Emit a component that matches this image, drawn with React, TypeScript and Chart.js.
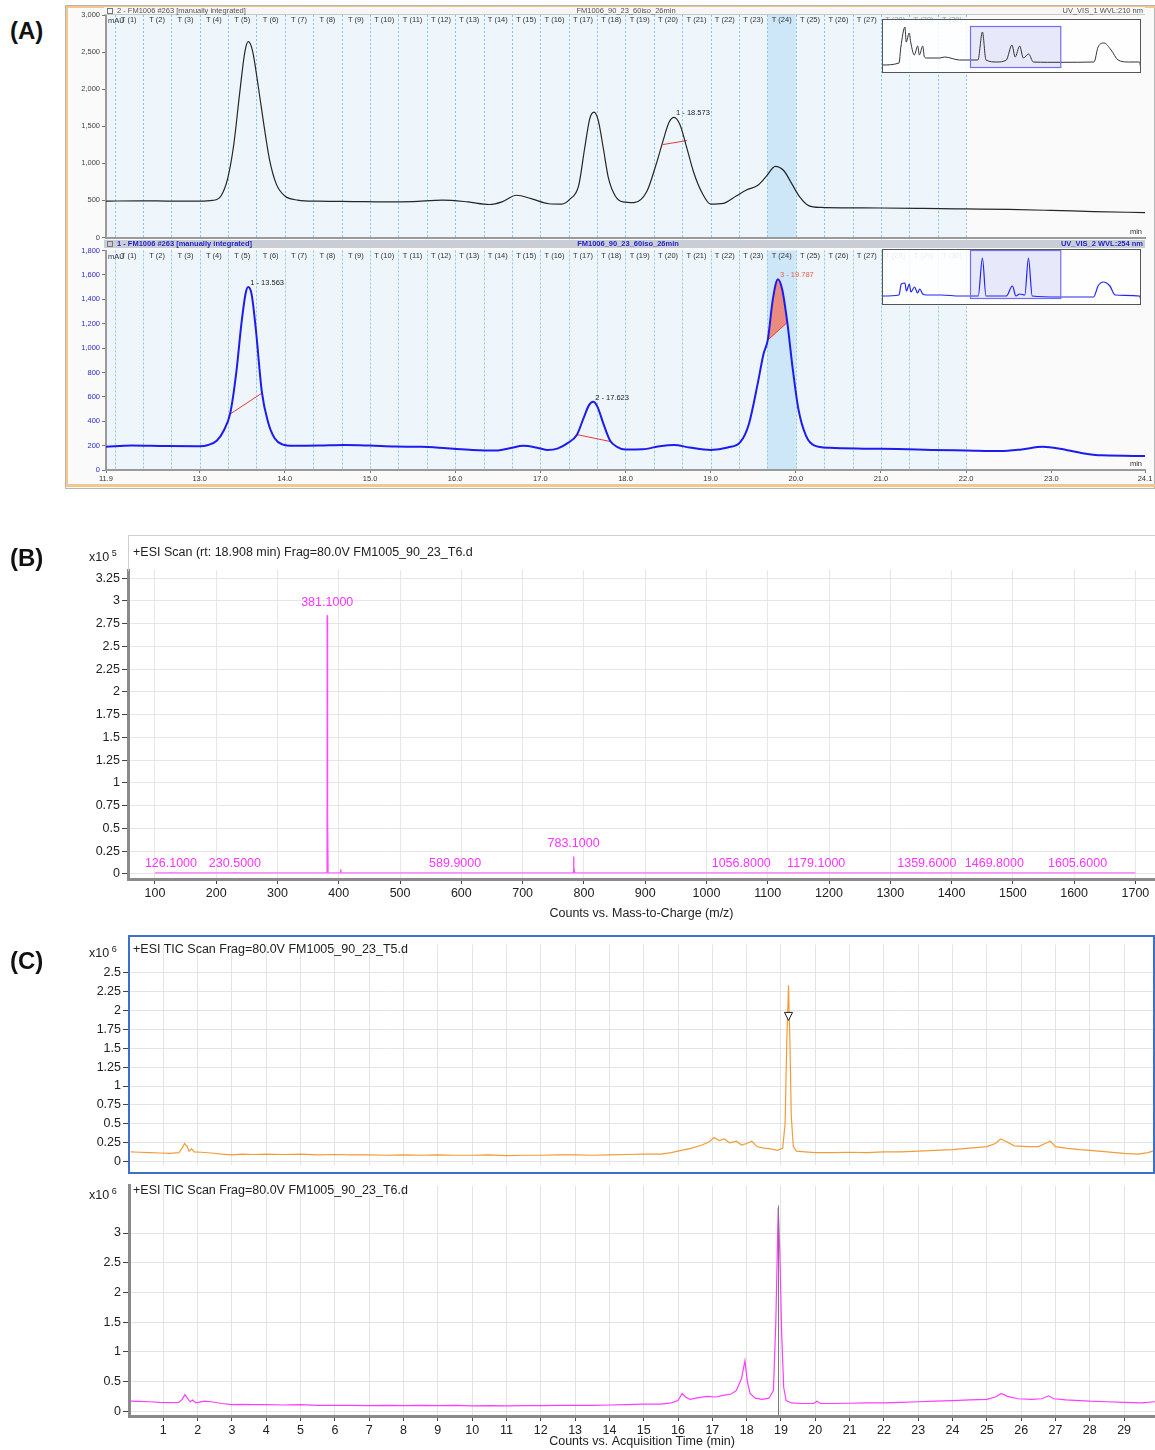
import React, { useEffect, useRef } from "react";
import { Chart, registerables } from "chart.js";

Chart.register(...registerables);
const FONT = "'Liberation Sans', Arial, Helvetica, sans-serif";
Chart.defaults.font.family = FONT;

// ---------------- Panel A : HPLC-UV chromatograms ----------------
const uv210Time = [11.9, 12.3, 12.7, 13.0, 13.15, 13.25, 13.33, 13.4, 13.47, 13.53, 13.57, 13.62, 13.68, 13.75, 13.82, 13.9, 14.0, 14.15, 14.4, 14.8, 15.2, 15.5, 15.85, 16.15, 16.4, 16.55, 16.72, 16.9, 17.1, 17.25, 17.35, 17.45, 17.52, 17.58, 17.63, 17.68, 17.74, 17.8, 17.88, 17.97, 18.1, 18.25, 18.35, 18.44, 18.51, 18.57, 18.64, 18.71, 18.8, 18.9, 19.0, 19.15, 19.3, 19.42, 19.55, 19.65, 19.76, 19.86, 19.95, 20.05, 20.15, 20.3, 20.6, 21.0, 21.5, 22.0, 22.5, 23.0, 23.5, 24.1];
const uv210Abs = [490, 495, 490, 490, 500, 560, 800, 1250, 1950, 2500, 2640, 2520, 2100, 1550, 1050, 720, 560, 505, 490, 485, 480, 485, 505, 480, 445, 480, 570, 520, 455, 450, 520, 700, 1200, 1600, 1690, 1580, 1200, 800, 560, 480, 470, 620, 950, 1300, 1550, 1620, 1520, 1250, 880, 600, 450, 460, 560, 640, 700, 820, 960, 900, 730, 540, 430, 405, 400, 398, 392, 385, 378, 365, 350, 335];

const uv254Time = [11.9, 12.2, 12.6, 13.0, 13.1, 13.2, 13.28, 13.36, 13.43, 13.49, 13.54, 13.57, 13.61, 13.66, 13.73, 13.8, 13.88, 13.97, 14.1, 14.4, 14.7, 15.0, 15.3, 15.6, 15.9, 16.2, 16.5, 16.65, 16.8, 16.95, 17.08, 17.2, 17.32, 17.43, 17.51, 17.57, 17.62, 17.67, 17.74, 17.82, 17.9, 18.0, 18.2, 18.4, 18.57, 18.75, 19.0, 19.2, 19.35, 19.45, 19.55, 19.62, 19.67, 19.73, 19.79, 19.84, 19.9, 19.96, 20.03, 20.12, 20.22, 20.4, 20.8, 21.2, 21.6, 22.0, 22.4, 22.65, 22.9, 23.1, 23.35, 23.6, 24.1];
const uv254Abs = [190, 200, 196, 195, 205, 240, 320, 470, 800, 1200, 1450, 1500, 1440, 1150, 640, 400, 260, 210, 198, 200, 205, 200, 192, 190, 178, 165, 160, 180, 198, 185, 165, 175, 220, 290, 430, 530, 560, 520, 380, 240, 190, 168, 170, 195, 205, 185, 165, 185, 230, 380, 700, 950, 1065, 1400, 1565, 1480, 1210, 850, 500, 280, 200, 182, 175, 172, 165, 160, 155, 168, 190, 175, 140, 120, 115];

const aTopYTicks = [0, 500, 1000, 1500, 2000, 2500, 3000];
const aBotYTicks = [0, 200, 400, 600, 800, 1000, 1200, 1400, 1600, 1800];
const aXTicks = [11.9, 13, 14, 15, 16, 17, 18, 19, 20, 21, 22, 23, 24.1];
const tWindowBounds = [12.0, 12.333, 12.667, 13.0, 13.333, 13.667, 14.0, 14.333, 14.667, 15.0, 15.333, 15.667, 16.0, 16.333, 16.667, 17.0, 17.333, 17.667, 18.0, 18.333, 18.667, 19.0, 19.333, 19.667, 20.0, 20.333, 20.667, 21.0, 21.333, 21.667, 22.0];
const tHighlighted = 24;

const int210Time = [18.44, 18.72];
const int210Abs = [1253, 1307];
const int254P1Time = [13.36, 13.73];
const int254P1Abs = [460, 630];
const int254P2Time = [17.43, 17.82];
const int254P2Abs = [290, 234];
const int254P3Time = [19.67, 19.9];
const int254P3Abs = [1065, 1210];

const lbl210Time = [18.57];
const lbl210Abs = [1620];
const lbl210Text = ["1 - 18.573"];
const lbl254Time = [13.57, 17.62, 19.79];
const lbl254Abs = [1500, 560, 1565];
const lbl254Text = ["1 - 13.563", "2 - 17.623", "3 - 19.787"];
const lbl254Color = ["#222", "#222", "#f05a4a"];

// overview insets (full run, arbitrary units)
const inset210Time = [0, 2.3, 2.55, 3.1, 3.27, 3.68, 3.9, 4.37, 4.82, 5.05, 5.5, 5.73, 6.0, 7.8, 8.46, 10.5, 12.96, 13.57, 14.05, 15.5, 16.8, 17.56, 18.0, 18.6, 19.1, 19.8, 20.46, 22.4, 24.15, 28.65, 29.2, 30.0, 30.96, 31.9, 33.3, 34.8, 35.0];
const inset210Abs = [8, 10, 26, 46, 31, 40, 30, 18, 27, 18, 27, 16, 15, 15, 16, 13, 13, 41, 13, 11, 13, 28, 16, 27, 15, 19, 11, 10.7, 10.7, 11, 26, 30, 23, 13, 11, 11, 3];
const inset254Time = [0, 2.3, 2.6, 3.1, 3.3, 3.7, 3.9, 4.4, 4.8, 5.1, 5.5, 6.0, 8.0, 10.5, 13.0, 13.57, 14.05, 16.8, 17.62, 18.1, 18.6, 19.3, 19.79, 20.3, 24.0, 28.6, 29.2, 29.9, 30.8, 31.5, 34.8, 35.0];
const inset254Abs = [8, 9, 20, 21, 13, 20, 12, 17, 11, 15, 10, 9, 9, 8, 8, 46, 8, 8, 18, 8, 10, 9, 46, 8, 7, 7, 18, 22, 18, 9, 8, 3];
const insetWindow = [11.9, 24.1];

// ---------------- Panel B : mass spectrum ----------------
const specMz = [126.1, 230.5, 381.1, 382.1, 403.1, 589.9, 783.1, 784.1, 1056.8, 1179.1, 1359.6, 1469.8, 1605.6];
const specInt = [0.02, 0.02, 2.84, 0.6, 0.05, 0.015, 0.19, 0.05, 0.012, 0.012, 0.012, 0.012, 0.012];
const specBaseline = 0.012;
const specRange = [100, 1700];
const specLabelMz = [126.1, 230.5, 381.1, 589.9, 783.1, 1056.8, 1179.1, 1359.6, 1469.8, 1605.6];
const specXTicks = [100, 200, 300, 400, 500, 600, 700, 800, 900, 1000, 1100, 1200, 1300, 1400, 1500, 1600, 1700];
const specYTicks = [0, 0.25, 0.5, 0.75, 1, 1.25, 1.5, 1.75, 2, 2.25, 2.5, 2.75, 3, 3.25];

// ---------------- Panel C : TIC chromatograms ----------------
const ticT5Time = [0.05, 0.3, 0.6, 0.9, 1.2, 1.45, 1.55, 1.62, 1.7, 1.75, 1.82, 1.9, 2.1, 2.4, 2.7, 3.0, 3.3, 3.6, 4.0, 4.5, 5.0, 5.5, 6.0, 6.5, 7.0, 7.5, 8.0, 8.5, 9.0, 9.5, 10.0, 10.5, 11.0, 11.5, 12.0, 12.5, 13.0, 13.5, 14.0, 14.5, 15.0, 15.5, 15.8, 16.1, 16.4, 16.7, 16.9, 17.05, 17.2, 17.35, 17.5, 17.7, 17.85, 18.0, 18.15, 18.3, 18.5, 18.7, 18.9, 19.05, 19.12, 19.17, 19.22, 19.26, 19.3, 19.36, 19.45, 19.7, 20.0, 20.5, 21.0, 21.5, 22.0, 22.5, 23.0, 23.5, 24.0, 24.5, 25.0, 25.25, 25.4, 25.55, 25.8, 26.2, 26.5, 26.7, 26.85, 27.0, 27.3, 27.7, 28.0, 28.5, 29.0, 29.4, 29.7, 29.9];
const ticT5Counts = [0.13, 0.125, 0.12, 0.115, 0.11, 0.12, 0.18, 0.24, 0.2, 0.14, 0.17, 0.13, 0.125, 0.115, 0.1, 0.09, 0.1, 0.095, 0.1, 0.095, 0.1, 0.09, 0.095, 0.09, 0.09, 0.085, 0.09, 0.085, 0.09, 0.085, 0.085, 0.09, 0.08, 0.085, 0.085, 0.09, 0.09, 0.085, 0.09, 0.095, 0.1, 0.1, 0.12, 0.15, 0.18, 0.22, 0.26, 0.32, 0.28, 0.3, 0.25, 0.27, 0.22, 0.24, 0.27, 0.2, 0.18, 0.17, 0.15, 0.18, 0.5, 1.6, 2.33, 1.6, 0.6, 0.2, 0.14, 0.13, 0.12, 0.12, 0.125, 0.12, 0.13, 0.13, 0.14, 0.15, 0.16, 0.18, 0.2, 0.24, 0.3, 0.27, 0.21, 0.2, 0.2, 0.24, 0.27, 0.2, 0.18, 0.16, 0.15, 0.13, 0.11, 0.1, 0.12, 0.15];
const ticT5MarkerTime = 19.22;
const ticT5MarkerCounts = 1.92;

const ticT6Time = [0.05, 0.3, 0.6, 0.9, 1.2, 1.45, 1.55, 1.63, 1.7, 1.78, 1.85, 1.95, 2.2, 2.4, 2.7, 3.0, 3.3, 3.6, 4.0, 4.5, 5.0, 5.5, 6.0, 6.5, 7.0, 7.5, 8.0, 8.5, 9.0, 9.5, 10.0, 10.5, 11.0, 11.5, 12.0, 12.5, 13.0, 13.5, 14.0, 14.5, 15.0, 15.5, 15.8, 16.0, 16.12, 16.22, 16.35, 16.6, 16.85, 17.1, 17.35, 17.55, 17.7, 17.85, 17.95, 18.02, 18.1, 18.25, 18.45, 18.65, 18.78, 18.85, 18.92, 18.97, 19.02, 19.08, 19.15, 19.3, 19.6, 19.95, 20.05, 20.15, 20.5, 21.0, 21.5, 22.0, 22.5, 23.0, 23.5, 24.0, 24.5, 25.0, 25.25, 25.42, 25.6, 25.9, 26.3, 26.6, 26.8, 26.95, 27.3, 27.7, 28.0, 28.5, 29.0, 29.5, 29.9];
const ticT6Counts = [0.17, 0.165, 0.16, 0.15, 0.145, 0.15, 0.2, 0.28, 0.22, 0.16, 0.19, 0.14, 0.17, 0.16, 0.13, 0.11, 0.115, 0.11, 0.11, 0.105, 0.11, 0.1, 0.1, 0.1, 0.095, 0.1, 0.095, 0.1, 0.095, 0.1, 0.09, 0.095, 0.09, 0.095, 0.095, 0.1, 0.1, 0.1, 0.105, 0.11, 0.12, 0.12, 0.14, 0.18, 0.3, 0.24, 0.2, 0.23, 0.25, 0.24, 0.27, 0.29, 0.35, 0.55, 0.85, 0.5, 0.3, 0.22, 0.2, 0.22, 0.35, 1.5, 3.42, 2.6, 1.3, 0.4, 0.18, 0.14, 0.13, 0.13, 0.17, 0.13, 0.13, 0.135, 0.14, 0.14, 0.15, 0.16, 0.17, 0.18, 0.19, 0.2, 0.24, 0.3, 0.25, 0.21, 0.2, 0.21, 0.26, 0.21, 0.19, 0.18, 0.17, 0.16, 0.15, 0.14, 0.16];
const ticT6CursorTime = 18.908;
const ticXTicks = [1, 2, 3, 4, 5, 6, 7, 8, 9, 10, 11, 12, 13, 14, 15, 16, 17, 18, 19, 20, 21, 22, 23, 24, 25, 26, 27, 28, 29];
const ticT5YTicks = [0, 0.25, 0.5, 0.75, 1, 1.25, 1.5, 1.75, 2, 2.25, 2.5];
const ticT6YTicks = [0, 0.5, 1, 1.5, 2, 2.5, 3];

// ---------------- helpers ----------------
const pts = (xs: number[], ys: number[]) => xs.map((x, i) => ({ x, y: ys[i] }));
const setTicks = (arr: number[]) => (s: any) => { s.ticks = arr.map((v) => ({ value: v })); };
const fixW = (w: number) => (s: any) => { s.width = w; };
const fixH = (h: number) => (s: any) => { s.height = h; };
const commas = (v: any) => Number(v).toLocaleString("en-US");
const baseOpts = {
  animation: false as const,
  responsive: false,
  events: [] as any[],
  plugins: { legend: { display: false }, tooltip: { enabled: false } },
};

function ChartCanvas({ left, top, width, height, make, z = 1 }: { left: number; top: number; width: number; height: number; make: () => any; z?: number }) {
  const ref = useRef<HTMLCanvasElement>(null);
  useEffect(() => {
    const chart = new Chart(ref.current as HTMLCanvasElement, make());
    return () => chart.destroy();
  }, []);
  return <canvas ref={ref} width={width} height={height} style={{ position: "absolute", left, top, width, height, zIndex: z }} />;
}

function Txt({ x, y, size, color = "#222", bold = false, align = "left", children, lh }: any) {
  const lineH = lh ?? Math.round(size * 1.3);
  const style: any = { position: "absolute", top: y - lineH / 2, fontSize: size, lineHeight: lineH + "px", color, fontWeight: bold ? "bold" : "normal", whiteSpace: "nowrap", fontFamily: FONT, zIndex: 5 };
  if (align === "left") style.left = x;
  else if (align === "right") style.right = 1155 - x;
  else { style.left = x; style.transform = "translateX(-50%)"; }
  return <div style={style}>{children}</div>;
}

function chromPlugin(labelT: number[], labelV: number[], labelText: string[], labelColor: string[]) {
  return {
    id: "chrom",
    beforeDraw(chart: any) {
      const { ctx, chartArea: a, scales } = chart;
      const x = scales.x;
      ctx.save();
      const xe = x.getPixelForValue(tWindowBounds[tWindowBounds.length - 1]);
      ctx.fillStyle = "#eef6fc";
      ctx.fillRect(a.left + 1, a.top, xe - a.left - 1, a.bottom - a.top);
      const s0 = x.getPixelForValue(tWindowBounds[tHighlighted - 1]);
      const s1 = x.getPixelForValue(tWindowBounds[tHighlighted]);
      ctx.fillStyle = "#cde7f8";
      ctx.fillRect(s0, a.top, s1 - s0, a.bottom - a.top);
      ctx.strokeStyle = "#86c4ee";
      ctx.lineWidth = 1;
      ctx.setLineDash([2, 2]);
      for (const b of tWindowBounds) {
        const px = Math.round(x.getPixelForValue(b)) + 0.5;
        ctx.beginPath();
        ctx.moveTo(px, a.top);
        ctx.lineTo(px, a.bottom);
        ctx.stroke();
      }
      ctx.restore();
    },
    afterDatasetsDraw(chart: any) {
      const { ctx, chartArea: a, scales } = chart;
      const x = scales.x, y = scales.y;
      ctx.save();
      ctx.font = `7.5px ${FONT}`;
      ctx.textBaseline = "middle";
      ctx.textAlign = "center";
      for (let k = 1; k < tWindowBounds.length; k++) {
        const cx = (x.getPixelForValue(tWindowBounds[k - 1]) + x.getPixelForValue(tWindowBounds[k])) / 2;
        ctx.fillStyle = k >= 28 ? "#9a9a9a" : "#333";
        ctx.fillText(`T (${k})`, cx, a.top + 5);
      }
      ctx.fillStyle = "#333";
      ctx.textAlign = "left";
      ctx.fillText("mAU", a.left + 2, a.top + 6);
      ctx.textAlign = "right";
      ctx.fillText("min", a.right - 3, a.bottom - 6);
      ctx.textAlign = "left";
      labelT.forEach((t, i) => {
        ctx.fillStyle = labelColor[i];
        ctx.fillText(labelText[i], x.getPixelForValue(t) + 2, y.getPixelForValue(labelV[i]) - 4);
      });
      ctx.restore();
    },
  };
}

function insetPlugin(winLow: number, winHigh: number) {
  return {
    id: "inset",
    beforeDraw(chart: any) {
      const { ctx, width, height, scales } = chart;
      ctx.save();
      ctx.fillStyle = "rgba(255,255,255,0.82)";
      ctx.fillRect(0, 0, width, height);
      const x0 = scales.x.getPixelForValue(insetWindow[0]);
      const x1 = scales.x.getPixelForValue(insetWindow[1]);
      const y0 = scales.y.getPixelForValue(winHigh);
      const y1 = scales.y.getPixelForValue(winLow);
      ctx.fillStyle = "rgba(222,222,250,0.7)";
      ctx.fillRect(x0, y0, x1 - x0, y1 - y0);
      ctx.restore();
    },
    afterDatasetsDraw(chart: any) {
      const { ctx, width, height, scales } = chart;
      ctx.save();
      const x0 = scales.x.getPixelForValue(insetWindow[0]);
      const x1 = scales.x.getPixelForValue(insetWindow[1]);
      const y0 = scales.y.getPixelForValue(winHigh);
      const y1 = scales.y.getPixelForValue(winLow);
      ctx.strokeStyle = "#7070f0";
      ctx.lineWidth = 1.2;
      ctx.strokeRect(Math.round(x0) + 0.5, Math.round(y0) + 0.5, x1 - x0, y1 - y0);
      ctx.strokeStyle = "#555";
      ctx.lineWidth = 1;
      ctx.strokeRect(0.5, 0.5, width - 1, height - 1);
      ctx.restore();
    },
  };
}

// ---------------- chart configs ----------------
const makeA210 = () => ({
  type: "line",
  data: {
    datasets: [
      { data: pts(uv210Time, uv210Abs), borderColor: "#262626", borderWidth: 1.2, pointRadius: 0, cubicInterpolationMode: "monotone", order: 0 },
      { data: pts(int210Time, int210Abs), borderColor: "#e83a3a", borderWidth: 1, pointRadius: 0, order: 1 },
    ],
  },
  options: {
    ...baseOpts,
    layout: { padding: { top: 7, right: 10, left: 0, bottom: 0 } },
    scales: {
      x: { type: "linear", min: 11.9, max: 24.1, ticks: { display: false }, grid: { display: false }, border: { color: "#9a9a9a", width: 2 }, afterFit: fixH(4) },
      y: { type: "linear", min: 0, max: 3000, afterBuildTicks: setTicks(aTopYTicks), ticks: { font: { size: 7.5 }, color: "#444", padding: 2, callback: commas }, grid: { drawOnChartArea: false, tickLength: 4, color: "#777" }, border: { color: "#9a9a9a", width: 2 }, afterFit: fixW(40) },
    },
  },
  plugins: [chromPlugin(lbl210Time, lbl210Abs, lbl210Text, ["#222"])],
});

const peak3Area = () => pts(uv254Time, uv254Abs).filter((p) => p.x >= int254P3Time[0] && p.x <= int254P3Time[1]);

const makeA254 = () => ({
  type: "line",
  data: {
    datasets: [
      { data: pts(uv254Time, uv254Abs), borderColor: "#1c1cf0", borderWidth: 2, pointRadius: 0, cubicInterpolationMode: "monotone", order: 0 },
      { data: pts(int254P1Time, int254P1Abs), borderColor: "#e83a3a", borderWidth: 1, pointRadius: 0, order: 1 },
      { data: pts(int254P2Time, int254P2Abs), borderColor: "#e83a3a", borderWidth: 1, pointRadius: 0, order: 1 },
      { data: pts(int254P3Time, int254P3Abs), borderColor: "#e83a3a", borderWidth: 1, pointRadius: 0, order: 1 },
      { data: peak3Area(), borderWidth: 0, borderColor: "rgba(0,0,0,0)", backgroundColor: "rgba(238,128,112,0.9)", pointRadius: 0, cubicInterpolationMode: "monotone", fill: 3, order: 3 },
    ],
  },
  options: {
    ...baseOpts,
    layout: { padding: { top: 3, right: 10, left: 0, bottom: 0 } },
    scales: {
      x: { type: "linear", min: 11.9, max: 24.1, afterBuildTicks: setTicks(aXTicks), ticks: { font: { size: 7.5 }, color: "#333", padding: 1, maxRotation: 0, autoSkip: false, callback: (v: any) => Number(v).toFixed(1) }, grid: { drawOnChartArea: false, tickLength: 3, color: "#777" }, border: { color: "#9a9a9a", width: 2 }, afterFit: fixH(18) },
      y: { type: "linear", min: 0, max: 1800, afterBuildTicks: setTicks(aBotYTicks), ticks: { font: { size: 7.5 }, color: "#2a2ad0", padding: 2, callback: commas }, grid: { drawOnChartArea: false, tickLength: 4, color: "#777" }, border: { color: "#9a9a9a", width: 2 }, afterFit: fixW(40) },
    },
  },
  plugins: [chromPlugin(lbl254Time, lbl254Abs, lbl254Text, lbl254Color)],
});

const makeInset = (t: number[], v: number[], color: string, width: number, yMin: number, yMax: number, winLow: number, winHigh: number) => () => ({
  type: "line",
  data: { datasets: [{ data: pts(t, v), borderColor: color, borderWidth: width, pointRadius: 0, cubicInterpolationMode: "monotone" }] },
  options: {
    ...baseOpts,
    layout: { padding: 0 },
    scales: {
      x: { type: "linear", display: false, min: 0, max: 35 },
      y: { type: "linear", display: false, min: yMin, max: yMax },
    },
  },
  plugins: [insetPlugin(winLow, winHigh)],
});

const specPoints = () => {
  const p: { x: number; y: number }[] = [{ x: specRange[0], y: specBaseline }];
  specMz.forEach((m, i) => {
    p.push({ x: m - 0.5, y: specBaseline }, { x: m, y: specInt[i] }, { x: m + 0.5, y: specBaseline });
  });
  p.push({ x: specRange[1], y: specBaseline });
  return p;
};

const specLabelPlugin = {
  id: "specLabels",
  afterDatasetsDraw(chart: any) {
    const { ctx, scales } = chart;
    ctx.save();
    ctx.font = `12.5px ${FONT}`;
    ctx.fillStyle = "#ff33ff";
    ctx.textAlign = "center";
    ctx.textBaseline = "middle";
    specLabelMz.forEach((m) => {
      const h = specInt[specMz.indexOf(m)];
      const py = h > 0.1 ? scales.y.getPixelForValue(h) - 13 : scales.y.getPixelForValue(0) - 10;
      ctx.fillText(m.toFixed(4), scales.x.getPixelForValue(m), py);
    });
    ctx.restore();
  },
};

const makeSpec = () => ({
  type: "line",
  data: { datasets: [{ data: specPoints(), borderColor: "#ff4cff", borderWidth: 1, pointRadius: 0 }] },
  options: {
    ...baseOpts,
    layout: { padding: { top: 35, left: 0, right: 0, bottom: 0 } },
    scales: {
      x: {
        type: "linear", min: 56, max: 1732, afterBuildTicks: setTicks(specXTicks),
        ticks: { font: { size: 12.5 }, color: "#222", padding: 2, maxRotation: 0, autoSkip: false, callback: (v: any) => String(v) },
        grid: { color: "#e6e6e6", tickLength: 5, tickColor: "#444" },
        border: { color: "#8a8a8a", width: 3 },
        title: { display: true, text: "Counts vs. Mass-to-Charge (m/z)", font: { size: 12.5 }, color: "#222", padding: { top: 0, bottom: 9 } },
        afterFit: fixH(51),
      },
      y: {
        type: "linear", min: -0.055, max: 3.34, afterBuildTicks: setTicks(specYTicks),
        ticks: { font: { size: 12.5 }, color: "#222", padding: 2, callback: (v: any) => String(v) },
        grid: { color: "#e6e6e6", tickLength: 6, tickColor: "#444" },
        border: { color: "#8a8a8a", width: 3 },
        afterFit: fixW(128),
      },
    },
  },
  plugins: [specLabelPlugin],
});

const markerPlugin = {
  id: "marker",
  afterDatasetsDraw(chart: any) {
    const { ctx, scales } = chart;
    const px = scales.x.getPixelForValue(ticT5MarkerTime);
    const py = scales.y.getPixelForValue(ticT5MarkerCounts);
    ctx.save();
    ctx.beginPath();
    ctx.moveTo(px - 4, py - 4);
    ctx.lineTo(px + 4, py - 4);
    ctx.lineTo(px, py + 4);
    ctx.closePath();
    ctx.fillStyle = "#fff";
    ctx.fill();
    ctx.strokeStyle = "#222";
    ctx.lineWidth = 1;
    ctx.stroke();
    ctx.restore();
  },
};

const cursorPlugin = {
  id: "cursor",
  afterDatasetsDraw(chart: any) {
    const { ctx, scales, chartArea: a } = chart;
    const px = Math.round(scales.x.getPixelForValue(ticT6CursorTime)) + 0.5;
    ctx.save();
    ctx.strokeStyle = "#7a7a7a";
    ctx.lineWidth = 1;
    ctx.beginPath();
    ctx.moveTo(px, a.top + 20);
    ctx.lineTo(px, a.bottom);
    ctx.stroke();
    ctx.restore();
  },
};

const makeTicT5 = () => ({
  type: "line",
  data: { datasets: [{ data: pts(ticT5Time, ticT5Counts), borderColor: "#f29c38", borderWidth: 1.2, pointRadius: 0 }] },
  options: {
    ...baseOpts,
    layout: { padding: { top: 2, left: 0, right: 0, bottom: 0 } },
    scales: {
      x: { type: "linear", min: 0, max: 29.9, afterBuildTicks: setTicks(ticXTicks), ticks: { display: false }, grid: { color: "#e4e4e4", drawTicks: false }, border: { display: false }, afterFit: fixH(2) },
      y: { type: "linear", min: -0.037, max: 2.87, afterBuildTicks: setTicks(ticT5YTicks), ticks: { font: { size: 12.5 }, color: "#222", padding: 2, callback: (v: any) => String(v) }, grid: { color: "#e4e4e4", tickLength: 6, tickColor: "#444" }, border: { display: false }, afterFit: fixW(129) },
    },
  },
  plugins: [markerPlugin],
});

const makeTicT6 = () => ({
  type: "line",
  data: { datasets: [{ data: pts(ticT6Time, ticT6Counts), borderColor: "#ff3cff", borderWidth: 1.2, pointRadius: 0 }] },
  options: {
    ...baseOpts,
    layout: { padding: { top: 2, left: 0, right: 0, bottom: 0 } },
    scales: {
      x: {
        type: "linear", min: 0, max: 29.9, afterBuildTicks: setTicks(ticXTicks),
        ticks: { font: { size: 12.5 }, color: "#222", padding: 2, maxRotation: 0, autoSkip: false, callback: (v: any) => String(v) },
        grid: { color: "#e4e4e4", tickLength: 5, tickColor: "#444" },
        border: { color: "#8a8a8a", width: 3 },
        title: { display: true, text: "Counts vs. Acquisition Time (min)", font: { size: 12.5 }, color: "#222", padding: { top: 0, bottom: 1 } },
        afterFit: fixH(34),
      },
      y: { type: "linear", min: -0.08, max: 3.8, afterBuildTicks: setTicks(ticT6YTicks), ticks: { font: { size: 12.5 }, color: "#222", padding: 2, callback: (v: any) => String(v) }, grid: { color: "#e4e4e4", tickLength: 6, tickColor: "#444" }, border: { color: "#8a8a8a", width: 3 }, afterFit: fixW(129) },
    },
  },
  plugins: [cursorPlugin],
});

function Box(props: any) {
  return <div style={{ position: "absolute", boxSizing: "border-box", pointerEvents: "none", ...props.style }} />;
}

export default function App() {
  return (
    <div style={{ position: "absolute", left: 0, top: 0, width: 1155, height: 1450, background: "#fff", overflow: "hidden", fontFamily: FONT }}>
      {/* Panel labels */}
      <Txt x={10} y={30} size={24} bold color="#111">(A)</Txt>
      <Txt x={10} y={557} size={24} bold color="#111">(B)</Txt>
      <Txt x={10} y={960} size={24} bold color="#111">(C)</Txt>

      {/* Panel A frame */}
      <Box style={{ left: 65, top: 5, width: 1090, height: 484, border: "1px solid #b5b5b5", background: "#fafafa", zIndex: 0 }} />
      <Box style={{ left: 66, top: 6, width: 1089, height: 481, borderLeft: "2px solid #f2c789", borderTop: "2px solid #f2c789", borderBottom: "3px solid #f2c789", zIndex: 0 }} />
      <Box style={{ left: 104, top: 7, width: 1041, height: 8, background: "#f6f6f6", borderBottom: "1px solid #c8c8c8", zIndex: 2 }} />
      <Box style={{ left: 104, top: 240, width: 1041, height: 8, background: "#c9ced6", zIndex: 2 }} />
      <Box style={{ left: 107, top: 8, width: 6, height: 6, border: "1px solid #777", zIndex: 3 }} />
      <Box style={{ left: 107, top: 241, width: 6, height: 6, border: "1px solid #777", zIndex: 3 }} />
      <Txt x={117} y={11} size={7.5} color="#555">2 - FM1006 #263 [manually integrated]</Txt>
      <Txt x={626} y={11} size={7.5} color="#555" align="center">FM1006_90_23_60iso_26min</Txt>
      <Txt x={1143} y={11} size={7.5} color="#555" align="right">UV_VIS_1 WVL:210 nm</Txt>
      <Txt x={117} y={244} size={7.5} color="#1f1fc8" bold>1 - FM1006 #263 [manually integrated]</Txt>
      <Txt x={628} y={244} size={7.5} color="#1f1fc8" bold align="center">FM1006_90_23_60iso_26min</Txt>
      <Txt x={1143} y={244} size={7.5} color="#1f1fc8" bold align="right">UV_VIS_2 WVL:254 nm</Txt>

      <ChartCanvas left={66} top={8} width={1089} height={236} make={makeA210} />
      <ChartCanvas left={66} top={244} width={1089} height={244} make={makeA254} />
      <ChartCanvas left={882} top={19} width={259} height={54} make={makeInset(inset210Time, inset210Abs, "#333", 1, 0, 54, 6, 47)} z={3} />
      <ChartCanvas left={882} top={249} width={259} height={56} make={makeInset(inset254Time, inset254Abs, "#2424f4", 1.2, -1, 55, 6, 54)} z={3} />

      {/* Panel B */}
      <Box style={{ left: 128, top: 535, width: 1027, height: 1, background: "#cfcfcf", zIndex: 2 }} />
      <Box style={{ left: 128, top: 535, width: 1, height: 36, background: "#cfcfcf", zIndex: 2 }} />
      <ChartCanvas left={0} top={535} width={1155} height={395} make={makeSpec} />
      <Txt x={133} y={552} size={12.5} color="#222">+ESI Scan (rt: 18.908 min) Frag=80.0V FM1005_90_23_T6.d</Txt>
      <Txt x={89} y={553} size={12.5} color="#222">x10<sup style={{ fontSize: 9, verticalAlign: 5 }}> 5</sup></Txt>

      {/* Panel C */}
      <ChartCanvas left={0} top={935} width={1155} height={239} make={makeTicT5} />
      <Box style={{ left: 128, top: 935, width: 1027, height: 239, border: "2px solid #3e6fcb", zIndex: 4 }} />
      <Txt x={133} y={949} size={12.5} color="#222">+ESI TIC Scan Frag=80.0V FM1005_90_23_T5.d</Txt>
      <Txt x={89} y={949} size={12.5} color="#222">x10<sup style={{ fontSize: 9, verticalAlign: 5 }}> 6</sup></Txt>

      <ChartCanvas left={0} top={1176} width={1155} height={274} make={makeTicT6} />
      <Txt x={133} y={1190} size={12.5} color="#222">+ESI TIC Scan Frag=80.0V FM1005_90_23_T6.d</Txt>
      <Txt x={89} y={1191} size={12.5} color="#222">x10<sup style={{ fontSize: 9, verticalAlign: 5 }}> 6</sup></Txt>
    </div>
  );
}
